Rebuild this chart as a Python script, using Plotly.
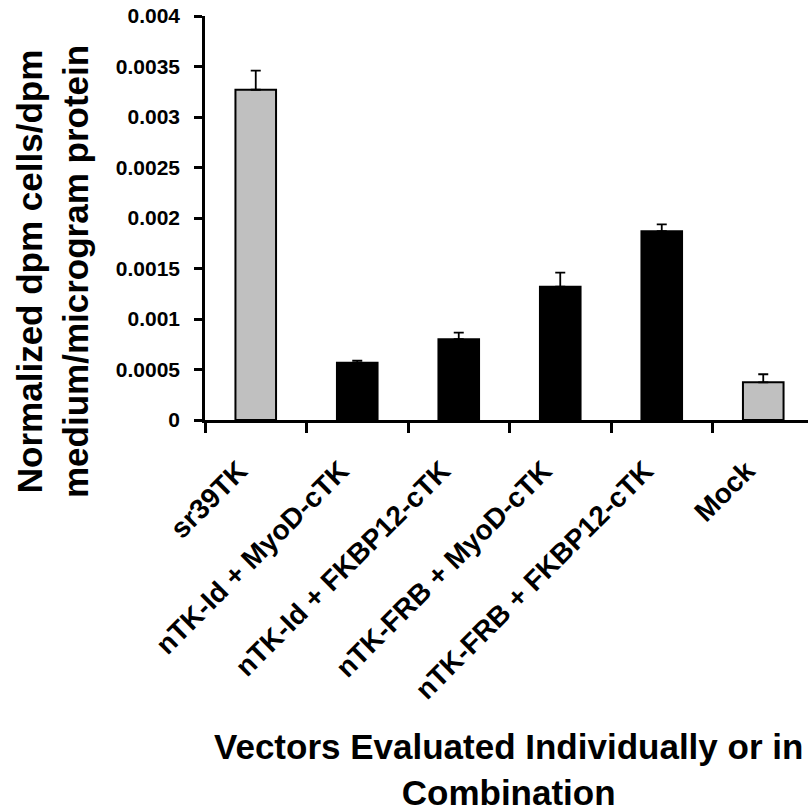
import plotly.graph_objects as go

categories = ["sr39TK", "nTK-Id + MyoD-cTK", "nTK-Id + FKBP12-cTK",
              "nTK-FRB + MyoD-cTK", "nTK-FRB + FKBP12-cTK", "Mock"]
values = [0.00327, 0.000567, 0.0008, 0.00132, 0.00187, 0.000373]
errors = [0.00019, 0.00002, 0.000066, 0.00014, 0.000066, 0.00008]
bar_colors = ["#C0C0C0", "#000000", "#000000", "#000000", "#000000", "#C0C0C0"]
ytick_vals = [0, 0.0005, 0.001, 0.0015, 0.002, 0.0025, 0.003, 0.0035, 0.004]
ytick_text = ["0", "0.0005", "0.001", "0.0015", "0.002", "0.0025", "0.003", "0.0035", "0.004"]
y_title = "Normalized dpm cells/dpm<br>medium/microgram protein"
x_title = "Vectors Evaluated Individually or in<br>Combination"

FONT = "Liberation Sans, Arial, sans-serif"
W, H = 808, 812
L, R, T, B = 205, 0, 16, 392
pw, ph = W - L - R, H - T - B
cat_px = 101.5

fig = go.Figure(go.Bar(
    x=categories, y=values, width=0.4,
    marker=dict(color=bar_colors, line=dict(color="black", width=2)),
    error_y=dict(type="data", array=errors, arrayminus=[0] * len(errors),
                 symmetric=False, color="black", thickness=1.8, width=5),
))

pad = "\u00a0" * 3
fig.update_layout(
    width=W, height=H, margin=dict(l=L, r=R, t=T, b=B, pad=0),
    paper_bgcolor="white", plot_bgcolor="white", showlegend=False,
    font=dict(family=FONT, color="black"),
    xaxis=dict(
        type="category", range=[-0.5, -0.5 + pw / cat_px],
        tickmode="array", tickvals=categories,
        ticktext=[c + pad for c in categories],
        showline=True, linecolor="black", linewidth=2.5,
        ticks="outside", ticklen=10, tickwidth=2.5, tickcolor="black",
        tickson="boundaries", tickangle=-45, showgrid=False, zeroline=False,
        tickfont=dict(family=FONT, size=28, weight="bold", color="black"),
        ticklabelstandoff=4,
    ),
    yaxis=dict(
        range=[0, 0.004], tickvals=ytick_vals, ticktext=ytick_text,
        showline=True, linecolor="black", linewidth=2.5,
        ticks="outside", ticklen=8, tickwidth=2.5, tickcolor="black",
        showgrid=False, zeroline=False,
        tickfont=dict(family=FONT, size=21, weight="bold", color="black"),
        ticklabelstandoff=10,
    ),
)

def px_to_paper_x(px):
    return (px - L) / pw

def px_to_paper_y(py):
    return (H - B - py) / ph

fig.add_annotation(
    text=y_title, textangle=-90, showarrow=False,
    xref="paper", yref="paper",
    x=px_to_paper_x(52), y=px_to_paper_y(272),
    xanchor="center", yanchor="middle",
    font=dict(family=FONT, size=35, weight="bold", color="black"),
)
fig.add_annotation(
    text=x_title, showarrow=False,
    xref="paper", yref="paper",
    x=px_to_paper_x(508), y=px_to_paper_y(725),
    xanchor="center", yanchor="top",
    font=dict(family=FONT, size=35, weight="bold", color="black"),
)

fig.write_html("out.html")
